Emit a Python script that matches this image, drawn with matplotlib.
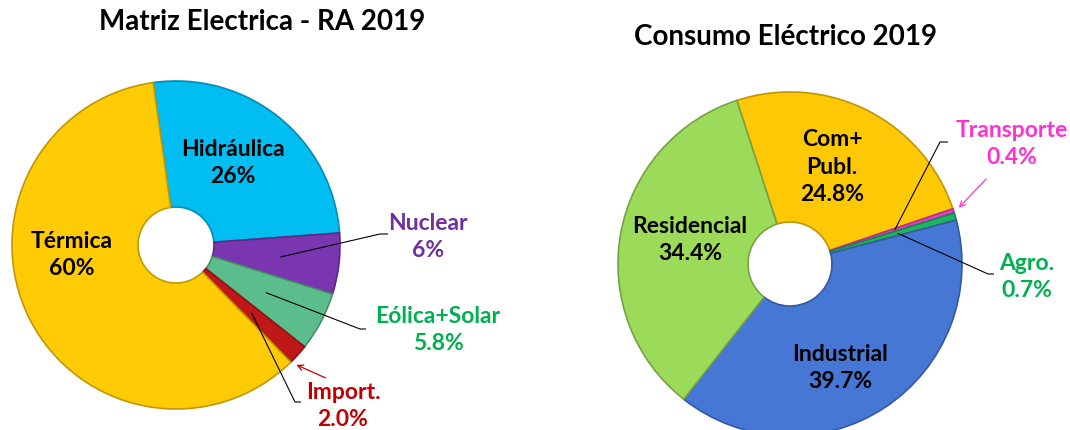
import numpy as np
import matplotlib.pyplot as plt
from matplotlib import colors as mcolors

plt.rcParams['font.family'] = ['Lato', 'DejaVu Sans']
plt.rcParams['font.weight'] = 'bold'

W, H = 1070, 431

# left donut: electricity matrix
gen_labels = ["Hidráulica", "Nuclear", "Eólica+Solar", "Import.", "Térmica"]
gen_values = [26, 6, 5.8, 2.0, 60]
gen_text = ["26%", "6%", "5.8%", "2.0%", "60%"]
gen_colors = ["#00BDF2", "#7A35B0", "#5CBD8C", "#C01818", "#FFCB05"]
gen_text_colors = ["black", "#7030A0", "#00B050", "#C00000", "black"]

# right donut: electricity consumption
con_labels = ["Com+\nPubl.", "Transporte", "Agro.", "Industrial", "Residencial"]
con_values = [24.8, 0.4, 0.7, 39.7, 34.4]
con_text = ["24.8%", "0.4%", "0.7%", "39.7%", "34.4%"]
con_colors = ["#FFC805", "#F03CC8", "#1EB462", "#4677D4", "#9CDA5A"]
con_text_colors = ["black", "#FF33CC", "#00B050", "black", "black"]


def px(x, y):
    # picture pixels (y down) -> axes coords (y up)
    return x, H - y


def darker(c, f=0.75):
    r, g, b = mcolors.to_rgb(c)
    return (r * f, g * f, b * f)


def wedge_point(center, radius, start, values, i, frac, where=0.5):
    tot = sum(values)
    a0 = start - 360 * sum(values[:i]) / tot
    a1 = a0 - 360 * values[i] / tot
    a = np.deg2rad(a0 + (a1 - a0) * where)
    return center[0] + frac * radius * np.cos(a), center[1] + frac * radius * np.sin(a)


def donut(ax, values, cols, center, radius, hole, start, explode=None):
    wedges, _ = ax.pie(values, colors=cols, startangle=start, counterclock=False,
                       center=center, radius=radius, explode=explode,
                       wedgeprops=dict(width=radius - hole, linewidth=1.2))
    for w, c in zip(wedges, cols):
        w.set_edgecolor(darker(c))
    return wedges


def leader(ax, p0, knee, end):
    ax.plot([p0[0], knee[0], end[0]], [p0[1], knee[1], end[1]],
            color="black", lw=0.8, solid_capstyle="butt")


fig = plt.figure(figsize=(W / 100, H / 100), dpi=100)
ax = fig.add_axes([0, 0, 1, 1])

fs = 16.5
ls = 1.38
tfs = 20

# ---- left
c1, r1 = px(176, 246), 164
donut(ax, gen_values, gen_colors, c1, r1, 38, 98,
      explode=[0, 0.015, 0.015, 0.015, 0])
ax.text(*px(262, 22), "Matriz Electrica - RA 2019", ha="center", va="center", fontsize=tfs)

pos = {0: (233, 163), 4: (72, 255), 1: (428, 237), 2: (438, 330), 3: (343, 406)}
for i, (x, y) in pos.items():
    ax.text(*px(x, y), gen_labels[i] + "\n" + gen_text[i], ha="center", va="center",
            fontsize=fs, color=gen_text_colors[i], linespacing=ls)

leader(ax, wedge_point(c1, r1, 98, gen_values, 1, 0.64), px(380, 235), px(388, 235))
leader(ax, wedge_point(c1, r1, 98, gen_values, 2, 0.62), px(360, 330), px(366, 330))
leader(ax, wedge_point(c1, r1, 98, gen_values, 3, 0.62), px(295, 403), px(301, 403))
ax.annotate("", xy=wedge_point(c1, r1, 98, gen_values, 3, 1.02, where=0.95),
            xytext=px(328, 380),
            arrowprops=dict(arrowstyle="->", color="#C00000", lw=0.9))

# ---- right
c2, r2 = px(790, 265), 172
donut(ax, con_values, con_colors, c2, r2, 42, 108)
ax.text(*px(785, 37), "Consumo Eléctrico 2019", ha="center", va="center", fontsize=tfs)

pos = {0: (832, 167), 4: (690, 240), 3: (840, 368), 1: (1012, 144), 2: (1027, 277)}
for i, (x, y) in pos.items():
    ax.text(*px(x, y), con_labels[i] + "\n" + con_text[i], ha="center", va="center",
            fontsize=fs, color=con_text_colors[i], linespacing=ls)

leader(ax, wedge_point(c2, r2, 108, con_values, 1, 0.64), px(940, 143), px(948, 143))
leader(ax, wedge_point(c2, r2, 108, con_values, 2, 0.65), px(988, 275), px(994, 275))
ax.annotate("", xy=wedge_point(c2, r2, 108, con_values, 1, 1.02),
            xytext=px(988, 178),
            arrowprops=dict(arrowstyle="->", color="#FF33CC", lw=0.9))

ax.set_xlim(0, W)
ax.set_ylim(0, H)
ax.set_aspect("auto")
ax.axis("off")

fig.savefig("out.png", dpi=100)
